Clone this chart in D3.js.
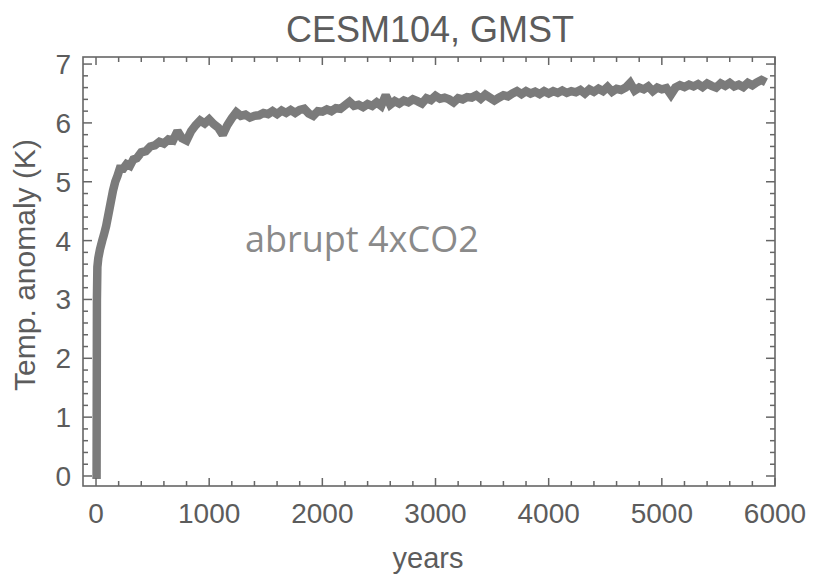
<!DOCTYPE html>
<html>
<head>
<meta charset="utf-8">
<script src="https://cdn.jsdelivr.net/npm/d3@7"></script>
<style>
  html, body { margin: 0; padding: 0; background: #fff; }
  svg { display: block; }
</style>
</head>
<body>
<svg id="chart" width="813" height="577"></svg>
<script>
// ---- data ----
const title = "CESM104, GMST";
const xLabel = "years";
const yLabel = "Temp. anomaly (K)";
const annotation = "abrupt 4xCO2";
const xTickValues = [0, 1000, 2000, 3000, 4000, 5000, 6000];
const yTickValues = [0, 1, 2, 3, 4, 5, 6, 7];

const years = [
  5, 8, 12, 20, 35, 55, 70, 90, 110, 130, 150, 170, 190, 210, 240, 270, 300, 330, 360, 400,
  440, 480, 520, 560, 600, 640, 680, 720, 760, 800, 840, 880, 920, 960, 1000,
  1040, 1080, 1120, 1160, 1200, 1240, 1280, 1320, 1360, 1400, 1440, 1480, 1520, 1560, 1600,
  1640, 1680, 1720, 1760, 1800, 1840, 1880, 1920, 1960, 2000, 2040, 2080, 2120, 2160, 2200,
  2240, 2280, 2320, 2360, 2400, 2440, 2480, 2520, 2560, 2600, 2640, 2680, 2720, 2760, 2800,
  2840, 2880, 2920, 2960, 3000, 3040, 3080, 3120, 3160, 3200, 3240, 3280, 3320, 3360, 3400,
  3440, 3480, 3520, 3560, 3600, 3640, 3680, 3720, 3760, 3800, 3840, 3880, 3920, 3960, 4000,
  4040, 4080, 4120, 4160, 4200, 4240, 4280, 4320, 4360, 4400, 4440, 4480, 4520, 4560, 4600,
  4640, 4680, 4720, 4760, 4800, 4840, 4880, 4920, 4960, 5000, 5040, 5080, 5120, 5160, 5200,
  5240, 5280, 5320, 5360, 5400, 5440, 5480, 5520, 5560, 5600, 5640, 5680, 5720, 5760, 5800,
  5840, 5880, 5920
];
const tempAnomaly = [
  -0.05, 3.0, 3.55, 3.7, 3.85, 4.0, 4.1, 4.25, 4.45, 4.65, 4.85, 5.0, 5.1, 5.22, 5.22, 5.30, 5.27, 5.38, 5.40, 5.50,
  5.52, 5.60, 5.62, 5.68, 5.65, 5.72, 5.70, 5.86, 5.74, 5.70, 5.86, 5.96, 6.04, 5.99, 6.06,
  5.98, 5.92, 5.80, 5.96, 6.08, 6.18, 6.12, 6.14, 6.09, 6.12, 6.13, 6.17, 6.15, 6.20, 6.15,
  6.21, 6.17, 6.22, 6.17, 6.22, 6.24, 6.16, 6.12, 6.20, 6.19, 6.23, 6.20, 6.25, 6.24, 6.30,
  6.36, 6.29, 6.31, 6.27, 6.32, 6.29, 6.35, 6.29, 6.47, 6.31, 6.37, 6.33, 6.38, 6.35, 6.40,
  6.37, 6.33, 6.42, 6.39, 6.46, 6.41, 6.43, 6.40, 6.35, 6.42, 6.40, 6.44, 6.43, 6.47, 6.41,
  6.48, 6.43, 6.38, 6.43, 6.47, 6.45, 6.50, 6.54, 6.49, 6.54, 6.50, 6.53, 6.49, 6.54, 6.50,
  6.54, 6.51, 6.55, 6.51, 6.54, 6.52, 6.56, 6.50, 6.57, 6.53, 6.58, 6.54, 6.61, 6.53, 6.58,
  6.56, 6.60, 6.68, 6.55, 6.60, 6.57, 6.62, 6.54, 6.60, 6.57, 6.59, 6.48, 6.60, 6.64, 6.61,
  6.65, 6.62, 6.66, 6.61, 6.67, 6.63, 6.60, 6.67, 6.63, 6.68, 6.62, 6.65, 6.61, 6.68, 6.64,
  6.69, 6.73, 6.69
];
const xDomain = [-115, 6000];
const yDomain = [-0.17, 7.12];

// ---- layout ----
const svg = d3.select("#chart");
const L = 83, R = 775, T = 57, B = 486;
const axisColor = "#666";
const textColor = "#5c5c5c";
const lineColor = "#7b7b7b";
const sans = "'Liberation Sans', Arial, sans-serif";

const x = d3.scaleLinear().domain(xDomain).range([L, R]);
const y = d3.scaleLinear().domain(yDomain).range([B, T]);

const data = years.map((yr, i) => ({ yr, v: tempAnomaly[i] }));

// series
const clipId = "plotclip";
svg.append("clipPath").attr("id", clipId)
  .append("rect").attr("x", L).attr("y", T).attr("width", R - L).attr("height", B - T);

svg.append("path")
  .datum(data)
  .attr("clip-path", `url(#${clipId})`)
  .attr("fill", "none")
  .attr("stroke", lineColor)
  .attr("stroke-width", 8.5)
  .attr("stroke-linejoin", "miter")
  .attr("stroke-miterlimit", 2)
  .attr("d", d3.line().x(d => x(d.yr)).y(d => y(d.v)));

// frame
svg.append("rect")
  .attr("x", L).attr("y", T).attr("width", R - L).attr("height", B - T)
  .attr("fill", "none").attr("stroke", axisColor).attr("stroke-width", 1.6);

// ticks
const xMinor = d3.range(0, 6001, 200).filter(v => v % 1000 !== 0);
const yMinor = d3.range(0, 7.01, 0.2).filter(v => Math.abs(v - Math.round(v)) > 0.01);

function xTicks(vals, len) {
  const g = svg.append("g");
  g.selectAll("line.b").data(vals).join("line")
    .attr("x1", d => x(d)).attr("x2", d => x(d)).attr("y1", B).attr("y2", B - len);
  g.selectAll("line.t").data(vals).join("line").attr("class", "t")
    .attr("x1", d => x(d)).attr("x2", d => x(d)).attr("y1", T).attr("y2", T + len);
  g.selectAll("line").attr("stroke", axisColor).attr("stroke-width", 1.5);
}
function yTicks(vals, len) {
  const g = svg.append("g");
  g.selectAll("line.l").data(vals).join("line")
    .attr("x1", L).attr("x2", L + len).attr("y1", d => y(d)).attr("y2", d => y(d));
  g.selectAll("line.r").data(vals).join("line").attr("class", "r")
    .attr("x1", R).attr("x2", R - len).attr("y1", d => y(d)).attr("y2", d => y(d));
  g.selectAll("line").attr("stroke", axisColor).attr("stroke-width", 1.5);
}
xTicks(xTickValues, 8);
xTicks(xMinor, 5);
yTicks(yTickValues, 9);
yTicks(yMinor, 5);

// tick labels
svg.append("g").selectAll("text").data(xTickValues).join("text")
  .attr("x", d => x(d)).attr("y", 523)
  .attr("text-anchor", "middle")
  .style("font-family", sans)
  .attr("font-size", 28).attr("fill", textColor)
  .text(d => d);

svg.append("g").selectAll("text").data(yTickValues).join("text")
  .attr("x", 71).attr("y", d => y(d) + 10)
  .attr("text-anchor", "end")
  .style("font-family", sans)
  .attr("font-size", 28).attr("fill", textColor)
  .text(d => d);

// title
svg.append("text")
  .attr("x", 430).attr("y", 42)
  .attr("text-anchor", "middle")
  .style("font-family", sans)
  .attr("font-size", 36).attr("fill", textColor)
  .text(title);

// axis labels
svg.append("text")
  .attr("x", 428).attr("y", 568)
  .attr("text-anchor", "middle")
  .style("font-family", sans)
  .attr("font-size", 29).attr("fill", textColor)
  .text(xLabel);

svg.append("text")
  .attr("transform", "translate(35,265) rotate(-90)")
  .attr("text-anchor", "middle")
  .style("font-family", sans)
  .attr("font-size", 30).attr("fill", textColor)
  .text(yLabel);

// annotation
svg.append("text")
  .attr("x", 245).attr("y", 252)
  .style("font-family", "'Open Sans', sans-serif")
  .attr("font-size", 36).attr("fill", "#8a8a8a")
  .text(annotation);
</script>
</body>
</html>
